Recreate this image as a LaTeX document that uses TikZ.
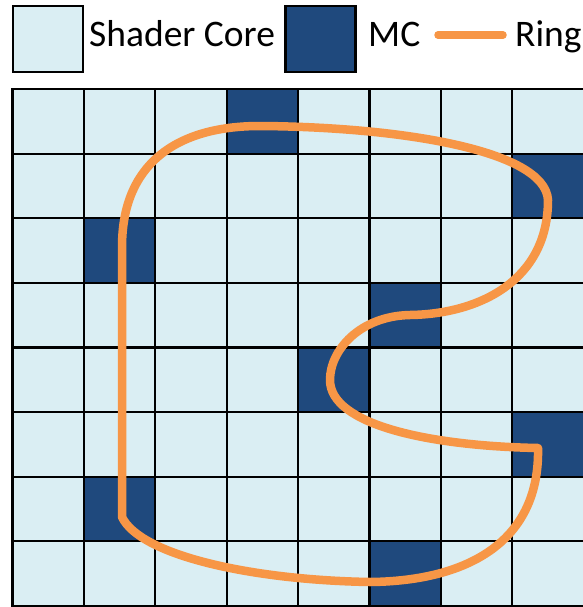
\documentclass[tikz,border=0pt]{standalone}
\usepackage{fontspec}
\setmainfont{Carlito}
\definecolor{core}{HTML}{DAEEF3}
\definecolor{mc}{HTML}{1F497D}
\definecolor{ring}{HTML}{F79646}
\begin{document}
\begin{tikzpicture}[x=1pt,y=-1pt,
  cell/.style={draw=black,line width=2.2pt,fill=core,minimum width=71.4pt,minimum height=64.6pt,inner sep=0pt,outer sep=0pt,anchor=north west},
  mccell/.style={cell,fill=mc},
  legbox/.style={draw=black,line width=2.4pt,minimum width=70pt,minimum height=66pt,inner sep=0pt,outer sep=0pt},
  ringline/.style={draw=ring,line width=8.5pt},
  lbl/.style={font=\fontsize{37.5}{40}\selectfont,anchor=base west,inner sep=0pt}]
\useasboundingbox (0,0) rectangle (582,607);
% legend
\node[legbox,fill=core] (lcore) at (48,39) {};
\node[lbl] (tcore) at (89,47) {Shader Core};
\node[legbox,fill=mc] (lmc) at (320.5,39) {};
\node[lbl] (tmc) at (368,47) {MC};
\coordinate (r1) at (438,35);
\coordinate (r2) at (503,35);
\draw[ringline,line width=7.5pt,line cap=round] (r1) -- (r2);
\node[lbl] (tring) at (515,47) {Ring};
% grid
\foreach \i in {0,...,7}
  \foreach \j in {0,...,7}
    \node[cell] (c\i\j) at ({12.5+71.4*\i},{89+64.6*\j}) {};
\foreach \i/\j in {3/0,7/1,1/2,5/3,4/4,7/5,1/6,5/7}
  \node[mccell] (m\i\j) at ({12.5+71.4*\i},{89+64.6*\j}) {};
% ring
\draw[ringline,line join=round] (122,517) -- (122,247)
  .. controls (122,165) and (175,126) .. (260,126)
  .. controls (400,127) and (545,150) .. (548,200)
  .. controls (548,280) and (480,314) .. (410,315)
  .. controls (360,316) and (330,350) .. (330,380)
  .. controls (330,425) and (430,446) .. (538,448)
  .. controls (540,540) and (470,581) .. (370,582)
  .. controls (250,580) and (140,555) .. (122,517) -- cycle;
\end{tikzpicture}
\end{document}
